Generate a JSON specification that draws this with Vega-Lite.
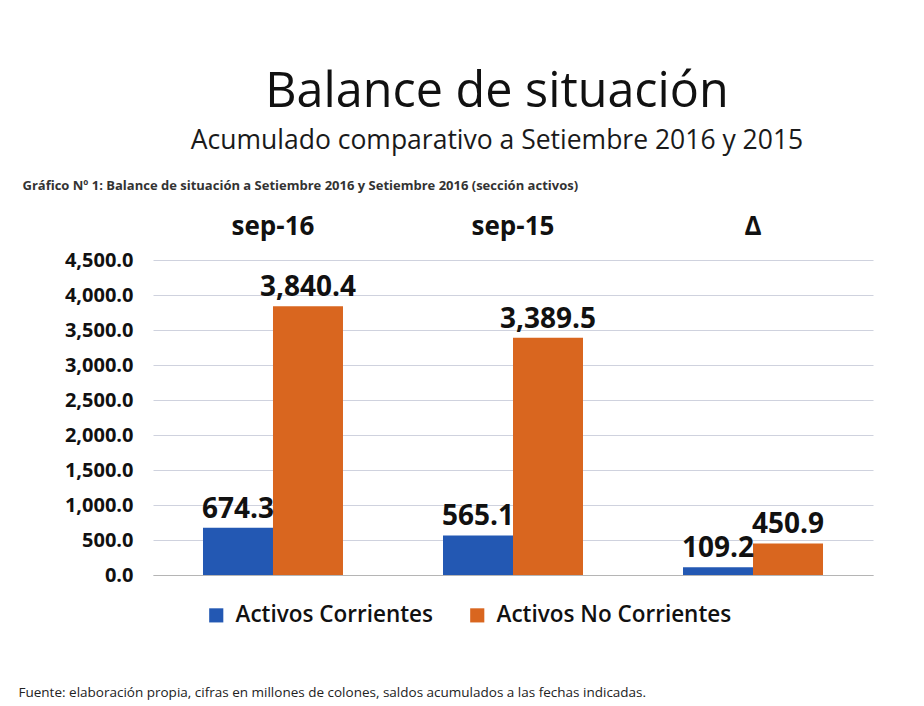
{
  "$schema": "https://vega.github.io/schema/vega-lite/v6.json",
  "width": 720,
  "height": 315,
  "autosize": {"type": "none"},
  "padding": {"left": 153, "top": 260, "right": 51, "bottom": 131},
  "background": "white",
  "config": {"font": "Open Sans", "view": {"stroke": null}},
  "title": {
    "text": "Balance de situación",
    "subtitle": "Acumulado comparativo a Setiembre 2016 y 2015",
    "fontSize": 48.5,
    "fontWeight": "normal",
    "color": "#111111",
    "subtitleFontSize": 26.5,
    "subtitleColor": "#1a1a1a",
    "subtitlePadding": 10,
    "anchor": "middle",
    "dx": -16,
    "offset": 24
  },
  "data": {
    "values": [
      {"periodo": "sep-16", "serie": "Activos Corrientes", "valor": 674.3},
      {"periodo": "sep-16", "serie": "Activos No Corrientes", "valor": 3840.4},
      {"periodo": "sep-15", "serie": "Activos Corrientes", "valor": 565.1},
      {"periodo": "sep-15", "serie": "Activos No Corrientes", "valor": 3389.5},
      {"periodo": "Δ", "serie": "Activos Corrientes", "valor": 109.2},
      {"periodo": "Δ", "serie": "Activos No Corrientes", "valor": 450.9}
    ]
  },
  "layer": [
    {
      "mark": {"type": "bar"},
      "encoding": {
        "x": {
          "field": "periodo",
          "type": "nominal",
          "sort": null,
          "scale": {"paddingInner": 0.4167, "paddingOuter": 0.2083},
          "axis": {
            "orient": "top",
            "title": "Gráfico Nº 1: Balance de situación a  Setiembre 2016 y  Setiembre 2016 (sección activos)",
            "titleFontSize": 13,
            "titleFontWeight": "bold",
            "titleColor": "#333333",
            "titleAnchor": "start",
            "titleAlign": "left",
            "titleX": -131,
            "titleY": -75,
            "titleBaseline": "middle",
            "labelAngle": 0,
            "labelFontSize": 26,
            "labelFontWeight": "bold",
            "labelColor": "#111111",
            "labelBaseline": "alphabetic",
            "labelPadding": 26,
            "ticks": false,
            "tickSize": 0,
            "domain": false
          }
        },
        "xOffset": {"field": "serie", "type": "nominal", "sort": null, "scale": {"paddingInner": 0, "paddingOuter": 0}},
        "y": {
          "field": "valor",
          "type": "quantitative",
          "scale": {"domain": [0, 4500]},
          "axis": {
            "title": null,
            "format": ",.1f",
            "values": [0, 500, 1000, 1500, 2000, 2500, 3000, 3500, 4000, 4500],
            "labelOverlap": false,
            "labelFontSize": 20,
            "labelFontWeight": "bold",
            "labelColor": "#111111",
            "labelPadding": 20,
            "ticks": false,
            "domain": false,
            "gridColor": "#cfd2de",
            "gridWidth": 1
          }
        },
        "color": {
          "field": "serie",
          "type": "nominal",
          "sort": null,
          "scale": {"range": ["#2358b3", "#d9661f"]},
          "legend": {
            "orient": "none",
            "legendX": 52,
            "legendY": 344,
            "direction": "horizontal",
            "title": null,
            "labelFontSize": 22.5,
            "labelFontWeight": 600,
            "labelLimit": 0,
            "labelColor": "#111111",
            "symbolType": "square",
            "symbolSize": 200,
            "symbolStrokeWidth": 0,
            "columnPadding": 32,
            "labelOffset": 8
          }
        }
      }
    },
    {
      "mark": {"type": "text", "dy": -10, "baseline": "alphabetic", "fontSize": 28, "fontWeight": "bold", "color": "#111111"},
      "encoding": {
        "x": {
          "field": "periodo",
          "type": "nominal",
          "sort": null,
          "axis": {
            "orient": "bottom",
            "labels": false,
            "ticks": false,
            "domain": true,
            "domainColor": "#b5b5b5",
            "title": "Fuente: elaboración propia, cifras en millones de colones, saldos acumulados a las fechas indicadas.",
            "titleFontSize": 13.5,
            "titleFontWeight": "normal",
            "titleColor": "#222222",
            "titleAnchor": "start",
            "titleAlign": "left",
            "titleX": -135,
            "titleY": 117,
            "titleBaseline": "middle"
          }
        },
        "xOffset": {"field": "serie", "type": "nominal", "sort": null},
        "y": {
          "field": "valor",
          "type": "quantitative",
          "axis": {
            "title": null,
            "format": ",.1f",
            "values": [0, 500, 1000, 1500, 2000, 2500, 3000, 3500, 4000, 4500],
            "labelOverlap": false,
            "labelFontSize": 20,
            "labelFontWeight": "bold",
            "labelColor": "#111111",
            "labelPadding": 20,
            "ticks": false,
            "domain": false,
            "gridColor": "#cfd2de",
            "gridWidth": 1
          }
        },
        "text": {"field": "valor", "type": "quantitative", "format": ",.1f"}
      }
    }
  ],
  "resolve": {"axis": {"x": "independent"}}
}
